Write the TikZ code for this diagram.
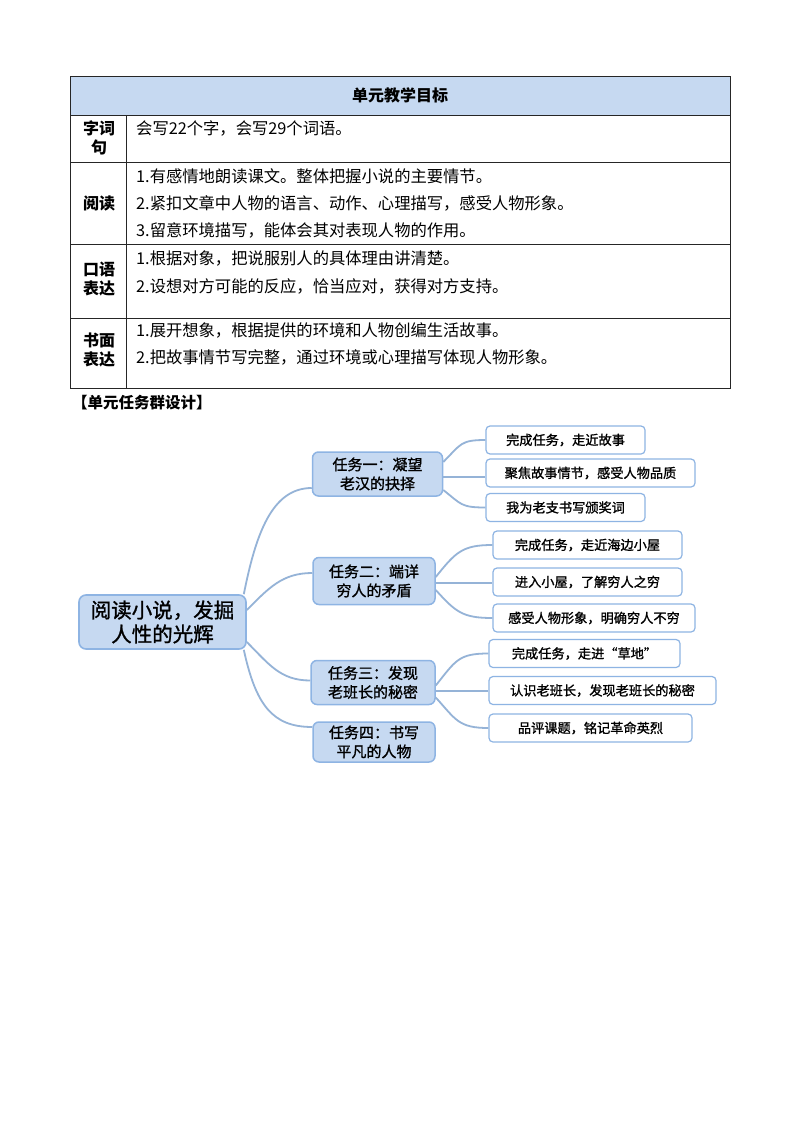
\documentclass[tikz,border=0pt]{standalone}
\usepackage{fontspec}
\setmainfont{Noto Sans CJK SC}
\newfontfamily\medfont[UprightFeatures={FakeBold=1.2}]{Noto Sans CJK SC}
\usetikzlibrary{calc}
\definecolor{headc}{HTML}{C6D9F1}
\definecolor{taskc}{HTML}{C6D9F1}
\definecolor{bordc}{HTML}{8EB4E3}
\definecolor{connc}{HTML}{95B3D7}
\begin{document}
\begin{tikzpicture}[x=1pt,y=-1pt,
  tbl/.style={draw=black!85, line width=0.9pt},
  rowtxt/.style={anchor=west, inner sep=0pt, font=\fontsize{16.3}{18}\selectfont},
  rowlbl/.style={align=center, inner sep=0pt, font=\bfseries\fontsize{16}{19}\selectfont},
  rootbox/.style={draw=bordc, fill=taskc, rounded corners=7pt, line width=1.6pt, align=center, inner sep=0pt, minimum width=167pt, minimum height=54pt, font=\medfont\fontsize{20.5}{24}\selectfont},
  taskbox/.style={draw=bordc, fill=taskc, rounded corners=6pt, line width=1.5pt, align=center, inner sep=0pt, minimum height=44pt, font=\medfont\fontsize{15}{19}\selectfont},
  leafbox/.style={draw=bordc, fill=white, rounded corners=4pt, line width=1.2pt, inner sep=0pt, minimum height=28pt, font=\medfont\fontsize{13.2}{15}\selectfont},
  conn/.style={draw=connc, line width=1.8pt}]
\useasboundingbox (0,0) rectangle (800,1132);
\fill[white] (0,0) rectangle (800,1132);

% ---------- table ----------
\fill[headc] (70,76) rectangle (730,115);
\draw[tbl] (70,76) rectangle (730,388);
\draw[tbl] (70,115) -- (730,115);
\draw[tbl] (70,162) -- (730,162);
\draw[tbl] (70,244) -- (730,244);
\draw[tbl] (70,318) -- (730,318);
\draw[tbl] (126,115) -- (126,388);

\node[rowlbl] (head) at (400,95.5) {单元教学目标};

\node[rowlbl] (l1) at (99,137.5) {字词\\句};
\node[rowtxt] (r11) at (136,128) {会写22个字，会写29个词语。};

\node[rowlbl] (l2) at (99,203) {阅读};
\node[rowtxt] (r21) at (136,176) {1.有感情地朗读课文。整体把握小说的主要情节。};
\node[rowtxt] (r22) at (136,203) {2.紧扣文章中人物的语言、动作、心理描写，感受人物形象。};
\node[rowtxt] (r23) at (136,230) {3.留意环境描写，能体会其对表现人物的作用。};

\node[rowlbl] (l3) at (99,279) {口语\\表达};
\node[rowtxt] (r31) at (136,258) {1.根据对象，把说服别人的具体理由讲清楚。};
\node[rowtxt] (r32) at (136,286) {2.设想对方可能的反应，恰当应对，获得对方支持。};

\node[rowlbl] (l4) at (99,350) {书面\\表达};
\node[rowtxt] (r41) at (136,330) {1.展开想象，根据提供的环境和人物创编生活故事。};
\node[rowtxt] (r42) at (136,357) {2.把故事情节写完整，通过环境或心理描写体现人物形象。};

\node[anchor=west, inner sep=0pt, font=\bfseries\fontsize{15.5}{18}\selectfont] (title) at (72,403) {【单元任务群设计】};

% ---------- mind map ----------
\node[rootbox] (root) at (162.5,622) {阅读小说，发掘\\人性的光辉};

\node[taskbox, minimum width=130pt] (t1) at (377.5,474) {任务一：凝望\\老汉的抉择};
\node[taskbox, minimum width=122pt, minimum height=47pt] (t2) at (374,581) {任务二：端详\\穷人的矛盾};
\node[taskbox, minimum width=124pt] (t3) at (373,682.5) {任务三：发现\\老班长的秘密};
\node[taskbox, minimum width=122pt, minimum height=40pt] (t4) at (374,742) {任务四：书写\\平凡的人物};

\node[leafbox, minimum width=159pt] (l11) at (565.5,440) {完成任务，走近故事};
\node[leafbox, minimum width=209pt] (l12) at (590.5,473) {聚焦故事情节，感受人物品质};
\node[leafbox, minimum width=159pt] (l13) at (565.5,507.5) {我为老支书写颁奖词};

\node[leafbox, minimum width=189pt] (l21) at (587.5,545) {完成任务，走近海边小屋};
\node[leafbox, minimum width=189pt] (l22) at (587.5,582) {进入小屋，了解穷人之穷};
\node[leafbox, minimum width=202pt] (l23) at (594,618) {感受人物形象，明确穷人不穷};

\node[leafbox, minimum width=191pt] (l31) at (584.5,653.5) {完成任务，走进“草地”};
\node[leafbox, minimum width=227pt] (l32) at (602.5,690.5) {认识老班长，发现老班长的秘密};
\node[leafbox, minimum width=203pt] (l33) at (590.5,728) {品评课题，铭记革命英烈};

% root -> tasks
\draw[conn] ([xshift=-3pt]root.north east) .. controls +(12,-60) and +(-40,0) .. ([yshift=-14pt]t1.west);
\draw[conn] ([yshift=12pt]root.east) .. controls +(22,-22) and +(-30,0) .. ([yshift=8pt]t2.west);
\draw[conn] ([yshift=-20pt]root.east) .. controls +(22,22) and +(-30,0) .. ([yshift=2pt]t3.west);
\draw[conn] ([xshift=-3pt]root.south east) .. controls +(12,55) and +(-40,0) .. ([yshift=15pt]t4.west);

% task1 -> leaves
\draw[conn] ([yshift=12pt]t1.east) .. controls +(18,-18) and +(-25,0) .. (l11.west);
\draw[conn] ([yshift=-3pt]t1.east) -- ([yshift=-3pt]t1.east -| l12.west);
\draw[conn] ([yshift=-16pt]t1.east) .. controls +(18,14) and +(-25,0) .. (l13.west);

% task2 -> leaves
\draw[conn] ([yshift=4pt]t2.east) .. controls +(20,-25) and +(-30,0) .. (l21.west);
\draw[conn] ([yshift=-2pt]t2.east) -- ([yshift=-2pt]t2.east -| l22.west);
\draw[conn] ([yshift=-9pt]t2.east) .. controls +(20,22) and +(-30,0) .. (l23.west);

% task3 -> leaves
\draw[conn] ([yshift=-3pt]t3.east) .. controls +(20,-25) and +(-30,0) .. (l31.west);
\draw[conn] ([yshift=-8.5pt]t3.east) -- ([yshift=-8.5pt]t3.east -| l32.west);
\draw[conn] ([yshift=-15pt]t3.east) .. controls +(20,22) and +(-30,0) .. (l33.west);
\end{tikzpicture}
\end{document}
